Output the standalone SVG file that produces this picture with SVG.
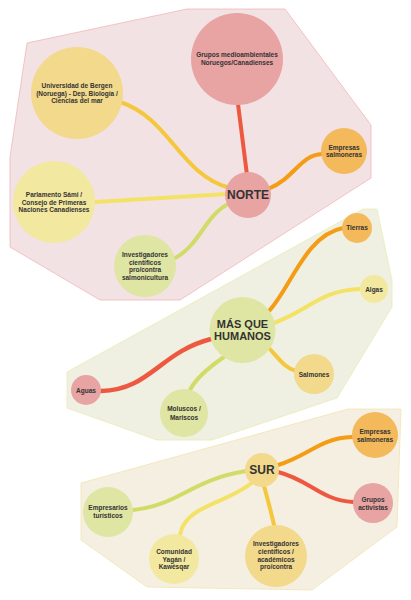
<svg xmlns="http://www.w3.org/2000/svg" width="411" height="600" viewBox="0 0 411 600">
<style>
.zone{stroke-width:0.8}
.z1{fill:#f2e2e3;stroke:#f0b8b8}
.z2{fill:#eff0e2;stroke:#e8ecb4}
.z3{fill:#f5efe1;stroke:#f3e3b0}
.c{fill:none;stroke-linecap:round;stroke-width:4}
.red{stroke:#ee5840}
.org{stroke:#f39c14}
.gld{stroke:#f5c73c}
.yel{stroke:#f3e265}
.grn{stroke:#d1dc68}
.pink{fill:#e8a3a3}
.gold{fill:#f2d98c}
.orange{fill:#f4b95a}
.pale{fill:#f3e8a0}
.green{fill:#dfe5a3}
text{font-family:"Liberation Sans",Arial,sans-serif;font-weight:bold;fill:#333;text-anchor:middle}
.s{font-size:6.5px}
.m{font-size:7.5px}
.big{font-size:12px}
.hub{font-size:11px}
</style>
<g id="zones">
<polygon class="zone z1" points="27,43 187,9 285,9 371,125 371,178 180,300 100,300 10,247 10,157"/>
<polygon class="zone z2" points="67,372 363,209 377,209 392,280 392,307 337,398 212,440 157,440 67,408"/>
<polygon class="zone z3" points="81,483 348,409 401,409 397,527 312,590 147,587 81,540"/>
</g>
<g id="connectors">
<path class="c gld" d="M120,102 C170,118 180,175 230,188"/>
<path class="c red" d="M238,104 L247,175"/>
<path class="c org" d="M268,189 C295,178 300,155 322,154"/>
<path class="c yel" d="M95,202 C150,199 190,196 227,194"/>
<path class="c grn" d="M175,258 C200,245 205,215 230,203"/>
<path class="c org" d="M268,312 C290,290 305,235 343,228"/>
<path class="c yel" d="M274,323 C310,310 320,290 361,289"/>
<path class="c gld" d="M268,347 C280,360 285,368 296,371"/>
<path class="c red" style="stroke-width:4.5" d="M211,339 C160,352 150,390 101,391"/>
<path class="c grn" d="M224,357 C205,370 195,380 190,390"/>
<path class="c org" d="M278,465 C310,455 320,438 352,437"/>
<path class="c red" d="M278,472 C310,480 320,500 353,502"/>
<path class="c grn" d="M246,471 C190,480 180,505 133,510"/>
<path class="c yel" d="M253,482 C225,505 185,505 180,535"/>
<path class="c gld" d="M264,486 C268,500 271,512 274,525"/>
</g>
<g id="grupos-norte"><circle class="pink" cx="237" cy="59" r="46"/><text class="s" x="237" y="56.5">Grupos medioambientales</text><text class="s" x="237" y="65">Noruegos/Canadienses</text></g>
<g id="bergen"><circle class="gold" cx="77" cy="93" r="46"/><text class="s" x="77" y="88">Universidad de Bergen</text><text class="s" x="77" y="95.6">(Noruega) - Dep. Biología /</text><text class="s" x="77" y="103.3">Ciencias del mar</text></g>
<g id="empresas-norte"><circle class="orange" cx="344" cy="151" r="23"/><text class="s" x="344" y="149.5">Empresas</text><text class="s" x="344" y="157.3">salmoneras</text></g>
<g id="parlamento"><circle class="pale" cx="54" cy="202" r="41"/><text class="s" x="54" y="196.6">Parlamento Sámi /</text><text class="s" x="54" y="204.6">Consejo de Primeras</text><text class="s" x="54" y="212.3">Naciones Canadienses</text></g>
<g id="investigadores-norte"><circle class="green" cx="145" cy="266" r="31"/><text class="s" x="145" y="256.6">Investigadores</text><text class="s" x="145" y="264.6">científicos</text><text class="s" x="145" y="272.3">pro/contra</text><text class="s" x="145" y="280">salmonicultura</text></g>
<g id="norte"><circle class="pink" cx="248" cy="195" r="23"/><text class="big" x="248" y="199.3">NORTE</text></g>
<g id="tierras"><circle class="orange" cx="357" cy="228" r="15"/><text class="s" x="357" y="230.3">Tierras</text></g>
<g id="algas"><circle class="pale" cx="374" cy="289" r="14"/><text class="s" x="374" y="291.5">Algas</text></g>
<g id="salmones"><circle class="gold" cx="314" cy="374" r="20"/><text class="s" x="314" y="376.5">Salmones</text></g>
<g id="aguas"><circle class="pink" cx="86" cy="390" r="15"/><text class="s" x="86" y="392.5">Aguas</text></g>
<g id="moluscos"><circle class="green" cx="184" cy="413" r="24"/><text class="s" x="184" y="411.3">Moluscos /</text><text class="s" x="184" y="419.6">Mariscos</text></g>
<g id="mas-que-humanos"><circle class="green" cx="242.5" cy="330" r="33"/><text class="hub" x="242.5" y="327.5">MÁS QUE</text><text class="hub" x="242.5" y="339.5">HUMANOS</text></g>
<g id="empresas-sur"><circle class="orange" cx="375" cy="435" r="23"/><text class="s" x="375" y="434">Empresas</text><text class="s" x="375" y="441.5">salmoneras</text></g>
<g id="grupos-activistas"><circle class="pink" cx="373" cy="503" r="20"/><text class="s" x="373" y="501.6">Grupos</text><text class="s" x="373" y="509.6">activistas</text></g>
<g id="empresarios"><circle class="green" cx="108" cy="512" r="25"/><text class="s" x="108" y="510">Empresarios</text><text class="s" x="108" y="518">turísticos</text></g>
<g id="comunidad"><circle class="pale" cx="174" cy="559" r="25"/><text class="s" x="174" y="554">Comunidad</text><text class="s" x="174" y="561.6">Yagán /</text><text class="s" x="174" y="569">Kawésqar</text></g>
<g id="investigadores-sur"><circle class="gold" cx="276" cy="556" r="31"/><text class="s" x="276" y="546.3">Investigadores</text><text class="s" x="276" y="554">científicos /</text><text class="s" x="276" y="561.6">académicos</text><text class="s" x="276" y="569.3">pro/contra</text></g>
<g id="sur"><circle class="gold" cx="262" cy="470" r="17"/><text class="big" x="262" y="474.3">SUR</text></g>
</svg>
